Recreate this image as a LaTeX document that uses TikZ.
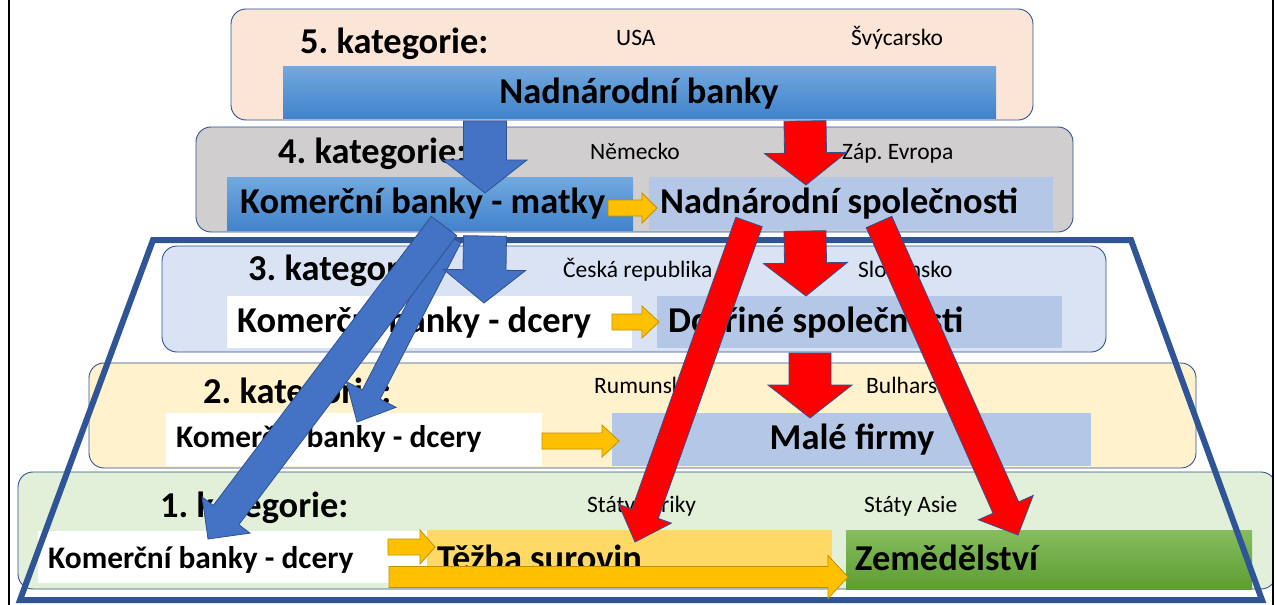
\documentclass[tikz,border=0pt]{standalone}
\usepackage{fontspec}
\setmainfont{Carlito}
\usetikzlibrary{calc}
\definecolor{edge}{HTML}{2F528F}
\definecolor{trap}{HTML}{2F5597}
\definecolor{peach}{HTML}{FBE5D6}
\definecolor{lgray}{HTML}{D0CECE}
\definecolor{lblue}{HTML}{DAE3F3}
\definecolor{lyellow}{HTML}{FFF2CC}
\definecolor{lgreen}{HTML}{E2F0D9}
\definecolor{boxblue}{HTML}{B4C7E7}
\definecolor{gradtop}{HTML}{72A9DE}
\definecolor{gradbot}{HTML}{4283CC}
\definecolor{gold}{HTML}{FFD966}
\definecolor{ayellow}{HTML}{FFC000}
\definecolor{ayedge}{HTML}{BF9000}
\definecolor{greentop}{HTML}{86BD5F}
\definecolor{greenbot}{HTML}{5E9D32}
\definecolor{ablue}{HTML}{4472C4}
\definecolor{ared}{HTML}{FF0000}
\tikzset{
  layer/.style={draw=edge, line width=0.9pt, rounded corners=15pt, anchor=north west, inner sep=0pt, outer sep=0pt},
  plainbox/.style={anchor=north west, inner sep=0pt, outer sep=0pt},
  bluegrad/.style={plainbox, top color=gradtop, bottom color=gradbot},
  greengrad/.style={plainbox, top color=greentop, bottom color=greenbot},
  big/.style={font=\fontsize{36.4}{40}\selectfont\bfseries\frenchspacing, inner sep=0pt, anchor=base west},
  mid/.style={font=\fontsize{31.4}{36}\selectfont\bfseries\frenchspacing, inner sep=0pt, anchor=base west},
  small/.style={font=\fontsize{23.5}{28}\selectfont\frenchspacing, inner sep=0pt, anchor=base west},
  bluarr/.style={fill=ablue, draw=edge, line width=0.8pt, line join=miter},
  redarr/.style={fill=ared, draw=edge, line width=0.8pt, line join=miter},
  yelarr/.style={fill=ayellow, draw=ayedge, line width=0.8pt, line join=miter},
}
% #1 style, #2 start, #3 end, #4 shaft half width, #5 head half width, #6 head length
\newcommand{\blkarrow}[6][]{%
  \coordinate (hd) at ($(#3)!#6!(#2)$);
  \path[#1] ($(#2)!#4!90:(#3)$) -- ($(hd)!#4!90:(#3)$) -- ($(hd)!#5!90:(#3)$) -- (#3)
     -- ($(hd)!#5!-90:(#3)$) -- ($(hd)!#4!-90:(#3)$) -- ($(#2)!#4!-90:(#3)$) -- cycle;
}
\begin{document}
\begin{tikzpicture}[x=1pt,y=-1pt]
\useasboundingbox (0,0) rectangle (1277,605);
\fill[white] (0,0) rectangle (1277,605);

% layers
\node[layer, fill=peach, minimum width=802pt, minimum height=111pt] (L5) at (231,9) {};
\node[layer, fill=lgray, minimum width=877pt, minimum height=105pt] (L4) at (196,127) {};
\node[layer, fill=lblue, minimum width=944pt, minimum height=106pt] (L3) at (162,246) {};
\node[layer, fill=lyellow, minimum width=1107pt, minimum height=105pt] (L2) at (89,363) {};
\begin{scope}
\clip (0,0) rectangle (1273,605);
\node[layer, fill=lgreen, minimum width=1258pt, minimum height=117pt] (L1) at (18,472) {};
\end{scope}

% boxes
\node[bluegrad, minimum width=713pt, minimum height=52pt] (nbB) at (283,66) {};
\node[bluegrad, minimum width=406pt, minimum height=53pt] (matB) at (227,177) {};
\node[plainbox, fill=boxblue, minimum width=404pt, minimum height=53pt] (nsB) at (649,177) {};
\node[plainbox, fill=white, minimum width=405pt, minimum height=52pt] (kb3B) at (227,296) {};
\node[plainbox, fill=boxblue, minimum width=405pt, minimum height=52pt] (dcB) at (657,296) {};
\node[plainbox, fill=white, minimum width=376pt, minimum height=53pt] (kb2B) at (166,413) {};
\node[plainbox, fill=boxblue, minimum width=479pt, minimum height=53pt] (mfB) at (612,413) {};
\node[plainbox, fill=white, minimum width=390pt, minimum height=52pt] (kb1B) at (38,531) {};
\node[plainbox, fill=gold, minimum width=405pt, minimum height=57pt] (tsB) at (427,530) {};
\node[greengrad, minimum width=406pt, minimum height=59pt] (zeB) at (846,530) {};

% texts
\node[big] (t5) at (300,53) {5. kategorie:};
\node[small] (usa) at (616,45) {USA};
\node[small] (svy) at (851,45) {Švýcarsko};
\node[big, anchor=base] (nbT) at (639,103) {Nadnárodní banky};

\node[big] (t4) at (278,163) {4. kategorie:};
\node[small] (nem) at (590,159) {Německo};
\node[small] (zap) at (842,159) {Záp. Evropa};
\node[big] (matT) at (240,213) {Komerční banky - matky};
\node[big] (nsT) at (660,213) {Nadnárodní společnosti};

\node[big] (t3) at (248,280) {3. kategorie:};
\node[small] (cr) at (563,277) {Česká republika};
\node[small] (sk) at (858,277) {Slovensko};
\node[big] (kb3T) at (237,332) {Komerční banky - dcery};
\node[big] (dcT) at (668,332) {Dceřiné společnosti};

\node[big] (t2) at (203,403) {2. kategorie:};
\node[small] (rum) at (594,393) {Rumunsko};
\node[small] (bul) at (866,393) {Bulharsko};
\node[mid] (kb2T) at (176,447) {Komerční banky - dcery};
\node[big, anchor=base] (mfT) at (852,449) {Malé firmy};

\node[big] (t1) at (160,517) {1. kategorie:};
\node[small] (saf) at (587,512) {Státy Afriky};
\node[small] (sas) at (864,512) {Státy Asie};
\node[mid] (kb1T) at (48,568) {Komerční banky - dcery};
\node[big] (tsT) at (437,570) {Těžba surovin};
\node[big] (zeT) at (855,570) {Zemědělství};

% frame lines
\draw[black, line width=2.5pt] (9,0) -- (9,605);
\draw[black, line width=2.5pt] (1273,0) -- (1273,605);

% trapezoid
\draw[trap, line width=6pt, line join=miter] (153,240) -- (1131,240) -- (1262,600) -- (20,600) -- cycle;

% arrow end points
\coordinate (y1s) at (608,208);  \coordinate (y1e) at (657,208);
\coordinate (y2s) at (612,322);  \coordinate (y2e) at (659,322);
\coordinate (y3s) at (542,441);  \coordinate (y3e) at (619,441);
\coordinate (y4s) at (388,547);  \coordinate (y4e) at (435,547);
\coordinate (y5s) at (389,577);  \coordinate (y5e) at (848,577);
\coordinate (b1s) at (485,121);  \coordinate (b1e) at (485,193);
\coordinate (b2s) at (485,236);  \coordinate (b2e) at (484,303);
\coordinate (b3s) at (444,226);  \coordinate (b3e) at (208,539);
\coordinate (b4s) at (452,238);  \coordinate (b4e) at (357,422);
\coordinate (r1s) at (805,121);  \coordinate (r1e) at (806,185);
\coordinate (r2s) at (805,231);  \coordinate (r2e) at (806,296);
\coordinate (r3s) at (810,353);  \coordinate (r3e) at (810,418);
\coordinate (r4s) at (749,222);  \coordinate (r4e) at (635,542);
\coordinate (r5s) at (879,222);  \coordinate (r5e) at (1018,535);

% yellow arrows
\blkarrow[yelarr]{y1s}{y1e}{8pt}{15pt}{15pt}
\blkarrow[yelarr]{y2s}{y2e}{8pt}{16pt}{17pt}
\blkarrow[yelarr]{y3s}{y3e}{8pt}{16pt}{17pt}
\blkarrow[yelarr]{y4s}{y4e}{8pt}{17pt}{15pt}
\blkarrow[yelarr]{y5s}{y5e}{10.5pt}{21.5pt}{20pt}

% blue arrows
\blkarrow[bluarr]{b4s}{b4e}{10pt}{28pt}{31pt}
\blkarrow[bluarr]{b3s}{b3e}{16pt}{30pt}{30pt}
\blkarrow[bluarr]{b1s}{b1e}{21.5pt}{42pt}{33pt}
\blkarrow[bluarr]{b2s}{b2e}{21.5pt}{41pt}{33pt}

% red arrows
\blkarrow[redarr]{r1s}{r1e}{21pt}{41pt}{32pt}
\blkarrow[redarr]{r2s}{r2e}{21pt}{42pt}{33pt}
\blkarrow[redarr]{r3s}{r3e}{21pt}{42pt}{33pt}
\blkarrow[redarr]{r4s}{r4e}{14pt}{28pt}{30pt}
\blkarrow[redarr]{r5s}{r5e}{14pt}{30pt}{30pt}
\end{tikzpicture}
\end{document}
